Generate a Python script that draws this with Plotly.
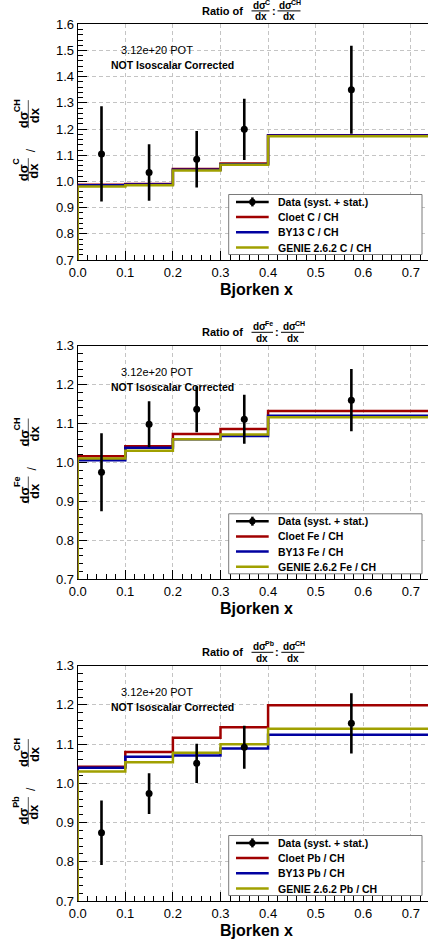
import plotly.graph_objects as go

# ---------------- data ----------------
bin_edges = [0.0, 0.1, 0.2, 0.3, 0.4, 0.75]
data_x = [0.05, 0.15, 0.25, 0.35, 0.575]

c_data = [1.105, 1.034, 1.085, 1.199, 1.350]
c_err = [0.182, 0.108, 0.108, 0.117, 0.168]
c_cloet = [0.987, 0.990, 1.047, 1.068, 1.176]
c_by13 = [0.985, 0.988, 1.045, 1.066, 1.175]
c_genie = [0.981, 0.985, 1.042, 1.064, 1.173]

fe_data = [0.975, 1.098, 1.137, 1.111, 1.160]
fe_err = [0.100, 0.059, 0.059, 0.063, 0.080]
fe_cloet = [1.016, 1.042, 1.073, 1.086, 1.132]
fe_by13 = [1.006, 1.038, 1.060, 1.068, 1.120]
fe_genie = [1.010, 1.030, 1.060, 1.072, 1.116]

pb_data = [0.874, 0.974, 1.051, 1.092, 1.153]
pb_err = [0.082, 0.052, 0.050, 0.055, 0.077]
pb_cloet = [1.0425, 1.080, 1.116, 1.143, 1.199]
pb_by13 = [1.040, 1.068, 1.071, 1.089, 1.124]
pb_genie = [1.030, 1.054, 1.078, 1.100, 1.139]

targets = ["C", "Fe", "Pb"]
y_ranges = [[0.7, 1.6], [0.7, 1.3], [0.7, 1.3]]
x_range = [0.0, 0.736]
legend_labels = ["Data (syst. + stat.)", "Cloet {t} / CH", "BY13 {t} / CH", "GENIE 2.6.2 {t} / CH"]
pot_text = "3.12e+20 POT"
iso_text = "NOT Isoscalar Corrected"

# ---------------- style ----------------
W, H = 428, 947
FONT = "Liberation Sans, Arial, Helvetica, sans-serif"
RED, BLUE, OLIVE = "#a00000", "#0000a0", "#a0a000"
PLOT_L = 77.7
panels_px = [(24.3, 260.0), (345.7, 579.3), (665.7, 901.0)]
SUP_W = {"C": 5.0, "CH": 10.0, "Fe": 8.5, "Pb": 8.8}   # approx. widths at 7 px
SUP_L = {"C": 6.0, "CH": 11.0, "Fe": 10.0, "Pb": 10.5}  # approx. lengths at 9 px


def fx(px):
    return px / W


def fy(py):
    return 1 - py / H


def step_xy(edges, vals, ymin):
    xs = [edges[0]] + list(edges[:-1]) + [edges[-1]]
    ys = [ymin] + list(vals) + [vals[-1]]
    return xs, ys


def ann(x, y, text, size, xanchor="center", angle=0, bold=False):
    return dict(x=fx(x), y=fy(y), xref="paper", yref="paper", text=text, textangle=angle,
                showarrow=False, xanchor=xanchor, yanchor="middle", borderpad=0,
                font=dict(family=FONT, size=size, color="black", weight=700 if bold else 400))


def hline(x0, x1, y, color, width, layer="above"):
    return dict(type="line", xref="paper", yref="paper", x0=fx(x0), x1=fx(x1), y0=fy(y), y1=fy(y),
                line=dict(color=color, width=width), layer=layer)


def vline(x, y0, y1, color, width, layer="above"):
    return dict(type="line", xref="paper", yref="paper", x0=fx(x), x1=fx(x), y0=fy(y0), y1=fy(y1),
                line=dict(color=color, width=width), layer=layer)


fig = go.Figure()
annotations = []
shapes = []

sets = [
    (c_data, c_err, c_cloet, c_by13, c_genie),
    (fe_data, fe_err, fe_cloet, fe_by13, fe_genie),
    (pb_data, pb_err, pb_cloet, pb_by13, pb_genie),
]

for i, (t, yr, (top, bot), (dat, err, clo, by, gen)) in enumerate(zip(targets, y_ranges, panels_px, sets)):
    xa = "x" if i == 0 else f"x{i+1}"
    ya = "y" if i == 0 else f"y{i+1}"
    for vals, col, name in [(clo, RED, "Cloet"), (by, BLUE, "BY13"), (gen, OLIVE, "GENIE 2.6.2")]:
        xs, ys = step_xy(bin_edges, vals, yr[0])
        fig.add_trace(go.Scatter(x=xs, y=ys, mode="lines", line=dict(color=col, width=2.5, shape="hv"),
                                 xaxis=xa, yaxis=ya, showlegend=False, name=f"{name} {t} / CH"))
    fig.add_trace(go.Scatter(x=data_x, y=dat, mode="markers",
                             marker=dict(color="black", size=7, symbol="circle"),
                             error_y=dict(type="data", array=err, visible=True, color="black",
                                          thickness=2.6, width=0),
                             xaxis=xa, yaxis=ya, showlegend=False, name="Data (syst. + stat.)"))

    axis_common = dict(
        ticks="inside", tickcolor="black", tickwidth=1, ticklen=9,
        showgrid=True, gridcolor="#c4c4c4", gridwidth=1, griddash="4px,3px",
        showline=True, linecolor="black", linewidth=1, zeroline=False,
        tickfont=dict(family=FONT, size=13, color="black"),
        layer="below traces", tickformat=".1f", automargin=False,
    )
    fig.update_layout(**{
        ("xaxis" if i == 0 else f"xaxis{i+1}"): dict(
            axis_common, domain=[fx(PLOT_L), 1.0], range=x_range, anchor=ya,
            tick0=0, dtick=0.1, mirror=True,
            minor=dict(ticks="inside", ticklen=5, tickcolor="black", dtick=0.02, showgrid=False),
        ),
        ("yaxis" if i == 0 else f"yaxis{i+1}"): dict(
            axis_common, domain=[fy(bot), fy(top)], range=yr, anchor=xa,
            tick0=0.7, dtick=0.1,
            minor=dict(ticks="inside", ticklen=5, tickcolor="black", dtick=0.02, showgrid=False),
        ),
    })

    # --- top title: Ratio of dσ^t/dx : dσ^CH/dx
    yc = top - 13.8
    annotations.append(ann(244, yc, "Ratio of", 11, xanchor="right", bold=True))
    x0 = 252.0
    for k, sup in enumerate([t, "CH"]):
        base_w = 12.0
        tot = base_w + SUP_W[sup]
        annotations.append(ann(x0, yc - 5.0, "dσ", 10, xanchor="left", bold=True))
        annotations.append(ann(x0 + base_w, yc - 8.0, sup, 7, xanchor="left", bold=True))
        annotations.append(ann(x0 + tot / 2, yc + 6.5, "dx", 10, bold=True))
        shapes.append(hline(x0 - 0.5, x0 + tot + 0.5, yc + 0.4, "black", 1))
        if k == 0:
            annotations.append(ann(x0 + tot + 4.5, yc, ":", 11, bold=True))
            x0 = x0 + tot + 9.0

    # --- y title (rotated):  dσ^t/dx / dσ^CH/dx
    c = (top + bot) / 2
    extra = SUP_L[t] - SUP_L["C"]
    s = c - extra / 2
    # upper fraction  dσ^CH / dx
    u0 = s - 42.0
    u_sup = SUP_L["CH"]
    annotations.append(ann(16.5, u0 + u_sup / 2, "CH", 9, angle=-90, bold=True))
    annotations.append(ann(23.5, u0 + u_sup + 8.5, "dσ", 13, angle=-90, bold=True))
    u_len = u_sup + 17
    annotations.append(ann(34.0, u0 + u_len / 2 + 1, "dx", 13, angle=-90, bold=True))
    shapes.append(vline(28.3, u0, u0 + u_len, "#555555", 1))
    # slash
    annotations.append(ann(31.0, s + 8.0, "/", 12, angle=-90))
    # lower fraction  dσ^t / dx
    l0 = s + 16.0
    l_sup = SUP_L[t]
    annotations.append(ann(16.5, l0 + l_sup / 2, t, 9, angle=-90, bold=True))
    annotations.append(ann(23.5, l0 + l_sup + 8.5, "dσ", 13, angle=-90, bold=True))
    l_len = l_sup + 17
    annotations.append(ann(34.0, l0 + l_len / 2 + 1, "dx", 13, angle=-90, bold=True))
    shapes.append(vline(28.3, l0, l0 + l_len, "#555555", 1))

    # --- x title
    annotations.append(ann(256.7, bot + 29, "Bjorken x", 16, bold=True))

    # --- POT / isoscalar text
    annotations.append(ann(157, top + 26.2, pot_text, 11))
    annotations.append(ann(172, top + 41, iso_text, 10.5, bold=True))

    # --- legend box (drawn like ROOT TLegend)
    bx0, bx1 = 228.7, 422.0
    by1 = bot - 5.5
    by0 = by1 - 60
    shapes.append(dict(type="rect", xref="paper", yref="paper", x0=fx(bx0), x1=fx(bx1), y0=fy(by0), y1=fy(by1),
                       line=dict(color="#7a7a7a", width=1), fillcolor="white", layer="above"))
    cols = ["black", RED, BLUE, OLIVE]
    for k, (lab, col) in enumerate(zip(legend_labels, cols)):
        ey = by0 + 7.4 + 15.2 * k
        shapes.append(hline(236, 268.7, ey, col, 2.5))
        if k == 0:
            shapes.append(vline(252.4, ey - 4.5, ey + 4.5, "black", 2.5))
            shapes.append(dict(type="circle", xref="paper", yref="paper", x0=fx(249.2), x1=fx(255.6),
                               y0=fy(ey - 3.2), y1=fy(ey + 3.2), line=dict(color="black", width=0),
                               fillcolor="black", layer="above"))
        annotations.append(ann(277, ey, lab.format(t=t), 10.5, xanchor="left", bold=True))

fig.update_layout(
    template="none",
    width=W, height=H, autosize=False,
    margin=dict(l=0, r=0, t=0, b=0, pad=0),
    paper_bgcolor="white", plot_bgcolor="white",
    showlegend=False, hovermode=False,
    annotations=annotations, shapes=shapes,
    font=dict(family=FONT, color="black"),
)

# remove the default page margin so the figure fills the window exactly
fig.write_html("out.html", config={"displayModeBar": False},
               post_script="document.body.style.margin='0';document.body.style.overflow='hidden';")
